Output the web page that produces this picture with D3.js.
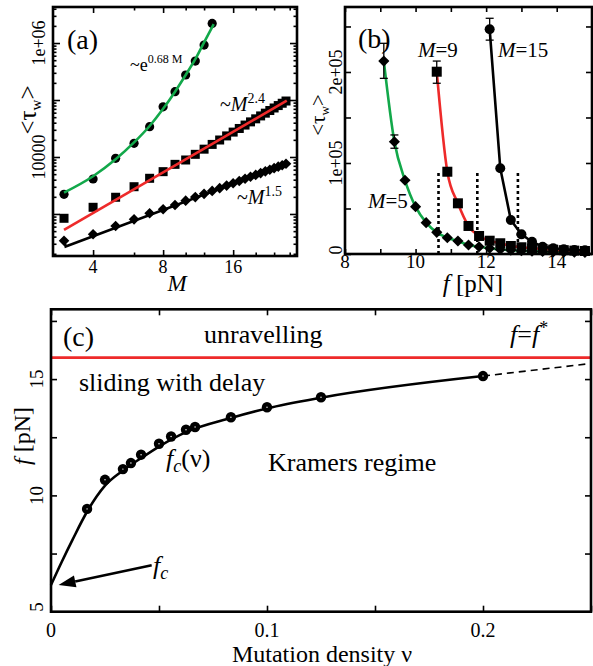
<!DOCTYPE html>
<html>
<head>
<meta charset="utf-8">
<script src="https://cdn.jsdelivr.net/npm/d3@7"></script>
<style>
  body { margin: 0; background: #fff; }
  svg { display: block; }
  svg text { font-family: "Liberation Serif", Tinos, "Times New Roman", "DejaVu Serif", serif; fill: #000; }
</style>
</head>
<body>
<script>
// ---------- data: panel (a) ----------
var aCircleM   = [3, 4, 5, 6, 7, 8, 9, 10, 11, 12, 13];
var aCircleTau = [2215, 4110, 9480, 17400, 34000, 76000, 140000, 275000, 483000, 922000, 2210000];
var aExpFitM   = [3, 4, 5, 6, 7, 8, 9, 10, 11, 12, 13.2];
var aExpFitTau = [2370, 4600, 9100, 18000, 35000, 70000, 140000, 275000, 520000, 1030000, 2150000];

var aSquareM   = [3, 4, 5, 6, 7, 8, 9, 10, 11, 12, 13, 14, 15, 16, 17, 18, 19, 20, 21, 22, 23, 24, 25, 26, 27];
var aSquareTau = [840, 1310, 1965, 3010, 4230, 5530, 7430, 8860, 11140, 13720, 16630, 19870, 23440,
                  27350, 31660, 36340, 41340, 46760, 52580, 58790, 65430, 72470, 79920, 87740, 96030];
var aPowFitM   = [3, 27.2];
var aPowFitTau = [524, 97200];

var aDiamondM   = aSquareM;
var aDiamondTau = [340, 440, 615, 805, 1028, 1210, 1440, 1714, 1977, 2253, 2540, 2839, 3149,
                   3469, 3799, 4139, 4489, 4848, 5216, 5593, 5979, 6373, 6775, 7186, 7604];
var aLinFitM   = [3, 3.05, 27.2];
var aLinFitTau = [340, 268, 7700];

var aMajorM = [4, 8, 16];
var aMinorM = [6, 10, 12, 20, 24, 28];

// ---------- data: panel (b) ----------
var bDiamondF   = [9.1, 9.4, 9.7, 10.0, 10.3, 10.6, 10.9, 11.2, 11.5, 11.8, 12.1, 12.4, 12.7, 13.0, 13.3, 13.6, 13.9, 14.2, 14.5, 14.8];
var bDiamondTau = [212000, 123400, 81000, 52000, 34400, 23800, 17900, 14300, 9900, 8000, 6300,
                   5000, 4200, 3600, 3100, 2700, 2400, 2100, 1900, 1700];
var bSquareF    = [10.6, 10.9, 11.2, 11.5, 11.8, 12.1, 12.4, 12.7, 13.0, 13.3, 13.6, 13.9, 14.2, 14.5, 14.8];
var bSquareTau  = [200300, 90400, 55700, 30800, 19800, 14600, 11800, 8800, 7400, 6300, 5500, 4800, 4200, 3700, 3300];
var bCircleF    = [12.1, 12.4, 12.7, 13.0, 13.3, 13.6, 13.9, 14.2, 14.5, 14.8];
var bCircleTau  = [246900, 94300, 37400, 21600, 13500, 8000, 6300, 5200, 4400, 4000];
var bErrF  = [9.1, 9.4, 10.6, 12.1];
var bErrLo = [193000, 116200, 187600, 235000];
var bErrHi = [231500, 130800, 212000, 259000];
var bDotF   = [10.65, 11.75, 12.9];
var bDotTop = 91500;

// ---------- data: panel (c) ----------
var cNu = [0.0167, 0.025, 0.0333, 0.037, 0.0417, 0.05, 0.0556, 0.0625, 0.0667, 0.0833, 0.1, 0.125, 0.2];
var cF  = [9.42, 10.67, 11.13, 11.39, 11.75, 12.22, 12.53, 12.82, 12.94, 13.36, 13.79, 14.22, 15.13];
var cCurveNu = [0, 0.005, 0.01, 0.017, 0.025, 0.033, 0.042, 0.05, 0.0625, 0.0833, 0.1, 0.125, 0.2];
var cCurveF  = [6.15, 7.15, 8.1, 9.35, 10.42, 11.05, 11.62, 12.1, 12.72, 13.33, 13.74, 14.2, 15.13];
var cDashNu = [0.2, 0.25];
var cDashF  = [15.13, 15.67];
var cFstar = 15.92;
var cArrowNu = [0.0466, 0.0035];
var cArrowF  = [7.0, 6.15];

var GREEN = "#12a84a", RED = "#ee2a2a";
var SERIF = '"Liberation Serif", Tinos, "Times New Roman", "DejaVu Serif", serif';

var svg = d3.select("body").append("svg").attr("width", 593).attr("height", 666)
  .attr("font-family", SERIF);

function zip(xs, ys) { return xs.map(function(x, i) { return [x, ys[i]]; }); }

function addAxis(g, fn, scale, vals, len, tx, ty) {
  var sel = g.append("g")
    .attr("transform", "translate(" + tx + "," + ty + ")")
    .call(fn(scale).tickValues(vals).tickSize(-len).tickFormat(""));
  sel.select(".domain").remove();
  sel.selectAll("line").attr("stroke", "#000").attr("stroke-width", 1.6);
  return sel;
}

function frame(g, x0, x1, y0, y1) {
  g.append("rect").attr("x", x0).attr("y", y0).attr("width", x1 - x0).attr("height", y1 - y0)
    .attr("fill", "none").attr("stroke", "#000").attr("stroke-width", 2.6);
}

function diamond(sz) { return d3.symbol().type(d3.symbolSquare).size(sz)(); }

function label(g, x, y, size) {
  return g.append("text").attr("x", x).attr("y", y).attr("font-size", size).attr("font-family", SERIF);
}

// ================= panel (a) =================
var ga = svg.append("g");
var ax = d3.scaleLog().domain([2.69, 30.1]).range([53, 297]);
var ay = d3.scaleLog().domain([183, 4.29e6]).range([256, 7]);
var aYMajor = [1e3, 1e4, 1e5, 1e6];
var aYMinor = ay.ticks().filter(function(v) { return aYMajor.indexOf(v) < 0; });

addAxis(ga, d3.axisBottom, ax, aMajorM, 6, 0, 256);
addAxis(ga, d3.axisBottom, ax, aMinorM, 3.5, 0, 256);
addAxis(ga, d3.axisTop, ax, aMajorM, 6, 0, 7);
addAxis(ga, d3.axisTop, ax, aMinorM, 3.5, 0, 7);
addAxis(ga, d3.axisLeft, ay, aYMajor, 7, 53, 0);
addAxis(ga, d3.axisLeft, ay, aYMinor, 3.5, 53, 0);
addAxis(ga, d3.axisRight, ay, aYMajor, 7, 297, 0);
addAxis(ga, d3.axisRight, ay, aYMinor, 3.5, 297, 0);

var lineA = d3.line().x(function(d) { return ax(d[0]); }).y(function(d) { return ay(d[1]); });

ga.selectAll(".acirc").data(zip(aCircleM, aCircleTau)).enter().append("circle")
  .attr("cx", function(d) { return ax(d[0]); }).attr("cy", function(d) { return ay(d[1]); })
  .attr("r", 4.6).attr("fill", "#000");
ga.selectAll(".asq").data(zip(aSquareM, aSquareTau)).enter().append("rect")
  .attr("x", function(d) { return ax(d[0]) - 4.5; }).attr("y", function(d) { return ay(d[1]) - 4.5; })
  .attr("width", 9).attr("height", 9).attr("fill", "#000");
ga.selectAll(".adia").data(zip(aDiamondM, aDiamondTau)).enter().append("path")
  .attr("d", diamond(56))
  .attr("transform", function(d) { return "translate(" + ax(d[0]) + "," + ay(d[1]) + ") rotate(45)"; })
  .attr("fill", "#000");

ga.append("path").datum(zip(aExpFitM, aExpFitTau)).attr("d", lineA.curve(d3.curveMonotoneX))
  .attr("fill", "none").attr("stroke", GREEN).attr("stroke-width", 2.6);
ga.append("path").datum(zip(aPowFitM, aPowFitTau)).attr("d", lineA.curve(d3.curveLinear))
  .attr("fill", "none").attr("stroke", RED).attr("stroke-width", 2.6);
ga.append("path").datum(zip(aLinFitM, aLinFitTau)).attr("d", lineA.curve(d3.curveLinear))
  .attr("fill", "none").attr("stroke", "#000").attr("stroke-width", 2.6);

frame(ga, 53, 297, 7, 256);

aMajorM.forEach(function(m) {
  label(ga, ax(m), 273, 18).attr("text-anchor", "middle").text(m);
});
label(ga, 177, 291, 23).attr("text-anchor", "middle").attr("font-style", "italic").text("M");
[[1e6, "1e+06"], [1e4, "10000"]].forEach(function(t) {
  label(ga, 0, 0, 18).attr("transform", "translate(45," + ay(t[0]) + ") rotate(-90)")
    .attr("text-anchor", "middle").text(t[1]);
});
var tla = label(ga, 0, 0, 25).attr("transform", "translate(36,110) rotate(-90)").attr("text-anchor", "middle");
tla.append("tspan").text("<τ");
tla.append("tspan").attr("font-size", 15).attr("dy", 5).text("w");
tla.append("tspan").attr("dy", -5).text(">");

label(ga, 67, 49, 28).text("(a)");
var t1 = label(ga, 130, 71, 18);
t1.append("tspan").text("~e");
t1.append("tspan").attr("font-size", 12).attr("dy", -8).text("0.68 M");
var t2 = label(ga, 220, 111, 20);
t2.append("tspan").text("~");
t2.append("tspan").attr("font-style", "italic").text("M");
t2.append("tspan").attr("font-size", 14).attr("dy", -8).text("2.4");
var t3 = label(ga, 237, 204, 20);
t3.append("tspan").text("~");
t3.append("tspan").attr("font-style", "italic").text("M");
t3.append("tspan").attr("font-size", 14).attr("dy", -8).text("1.5");

// ================= panel (b) =================
var gb = svg.append("g");
var bx = d3.scaleLinear().domain([8, 15]).range([345, 592]);
var by = d3.scaleLinear().domain([0, 271400]).range([254, 7]);

addAxis(gb, d3.axisBottom, bx, d3.range(8, 15.01, 1), 5, 0, 254);
addAxis(gb, d3.axisTop, bx, d3.range(8, 15.01, 1), 5, 0, 7);
addAxis(gb, d3.axisLeft, by, [0, 50000, 100000, 150000, 200000, 250000], 6, 345, 0);
addAxis(gb, d3.axisRight, by, [0, 50000, 100000, 150000, 200000, 250000], 6, 592, 0);

var lineB = d3.line().x(function(d) { return bx(d[0]); }).y(function(d) { return by(d[1]); });

gb.selectAll(".dot").data(bDotF).enter().append("line")
  .attr("x1", function(d) { return bx(d); }).attr("x2", function(d) { return bx(d); })
  .attr("y1", by(0)).attr("y2", by(bDotTop))
  .attr("stroke", "#000").attr("stroke-width", 2.6).attr("stroke-dasharray", "3,3");

gb.append("path").datum(zip(bDiamondF, bDiamondTau)).attr("d", lineB.curve(d3.curveMonotoneX))
  .attr("fill", "none").attr("stroke", GREEN).attr("stroke-width", 2.6);
gb.selectAll(".bdia").data(zip(bDiamondF, bDiamondTau)).enter().append("path")
  .attr("d", diamond(62))
  .attr("transform", function(d) { return "translate(" + bx(d[0]) + "," + by(d[1]) + ") rotate(45)"; })
  .attr("fill", "#000");
gb.append("path").datum(zip(bSquareF, bSquareTau)).attr("d", lineB.curve(d3.curveMonotoneX))
  .attr("fill", "none").attr("stroke", RED).attr("stroke-width", 2.6);
gb.selectAll(".bsq").data(zip(bSquareF, bSquareTau)).enter().append("rect")
  .attr("x", function(d) { return bx(d[0]) - 5; }).attr("y", function(d) { return by(d[1]) - 5; })
  .attr("width", 10).attr("height", 10).attr("fill", "#000");
gb.append("path").datum(zip(bCircleF, bCircleTau)).attr("d", lineB.curve(d3.curveLinear))
  .attr("fill", "none").attr("stroke", "#000").attr("stroke-width", 2.6);
gb.selectAll(".bcirc").data(zip(bCircleF, bCircleTau)).enter().append("circle")
  .attr("cx", function(d) { return bx(d[0]); }).attr("cy", function(d) { return by(d[1]); })
  .attr("r", 5).attr("fill", "#000");

var errs = bErrF.map(function(f, i) { return { f: f, lo: bErrLo[i], hi: bErrHi[i] }; });
var eg = gb.selectAll(".err").data(errs).enter().append("g")
  .attr("stroke", "#000").attr("stroke-width", 1.3);
eg.append("line").attr("x1", function(d) { return bx(d.f); }).attr("x2", function(d) { return bx(d.f); })
  .attr("y1", function(d) { return by(d.lo); }).attr("y2", function(d) { return by(d.hi); });
eg.append("line").attr("x1", function(d) { return bx(d.f) - 4; }).attr("x2", function(d) { return bx(d.f) + 4; })
  .attr("y1", function(d) { return by(d.lo); }).attr("y2", function(d) { return by(d.lo); });
eg.append("line").attr("x1", function(d) { return bx(d.f) - 4; }).attr("x2", function(d) { return bx(d.f) + 4; })
  .attr("y1", function(d) { return by(d.hi); }).attr("y2", function(d) { return by(d.hi); });

frame(gb, 345, 592, 7, 254);

[8, 10, 12, 14].forEach(function(v) {
  label(gb, bx(v), 268, 19).attr("text-anchor", "middle").text(v);
});
var fl = label(gb, 473, 292, 25).attr("text-anchor", "middle");
fl.append("tspan").attr("font-style", "italic").text("f");
fl.append("tspan").text(" [pN]");
[["0", 250], ["1e+05", by(100000)], ["2e+05", by(200000)]].forEach(function(t) {
  label(gb, 0, 0, 18).attr("transform", "translate(342," + t[1] + ") rotate(-90)")
    .attr("text-anchor", "middle").text(t[0]);
});
var tlb = label(gb, 0, 0, 21).attr("transform", "translate(325,115) rotate(-90)").attr("text-anchor", "middle");
tlb.append("tspan").text("<τ");
tlb.append("tspan").attr("font-size", 13).attr("dy", 4).text("w");
tlb.append("tspan").attr("dy", -4).text(">");

label(gb, 358, 48, 28).text("(b)");
[["9", 418, 57], ["15", 498, 57], ["5", 368, 208]].forEach(function(t) {
  var tt = label(gb, t[1], t[2], 21);
  tt.append("tspan").attr("font-style", "italic").text("M");
  tt.append("tspan").text("=" + t[0]);
});

// ================= panel (c) =================
var gc = svg.append("g");
var cx = d3.scaleLinear().domain([0, 0.25]).range([51, 591]);
var cy = d3.scaleLinear().domain([5, 18]).range([611.7, 309.3]);

addAxis(gc, d3.axisBottom, cx, [0, 0.05, 0.1, 0.15, 0.2, 0.25], 6, 0, 611.7);
addAxis(gc, d3.axisTop, cx, [0, 0.05, 0.1, 0.15, 0.2, 0.25], 6, 0, 309.3);
addAxis(gc, d3.axisLeft, cy, [5, 7.5, 10, 12.5, 15, 17.5], 6, 51, 0);
addAxis(gc, d3.axisRight, cy, [5, 7.5, 10, 12.5, 15, 17.5], 6, 591, 0);

var lineC = d3.line().x(function(d) { return cx(d[0]); }).y(function(d) { return cy(d[1]); });

gc.append("line").attr("x1", cx(0)).attr("x2", cx(0.25)).attr("y1", cy(cFstar)).attr("y2", cy(cFstar))
  .attr("stroke", RED).attr("stroke-width", 2.8);
gc.append("path").datum(zip(cCurveNu, cCurveF)).attr("d", lineC.curve(d3.curveMonotoneX))
  .attr("fill", "none").attr("stroke", "#000").attr("stroke-width", 2.6);
gc.append("path").datum(zip(cDashNu, cDashF)).attr("d", lineC.curve(d3.curveLinear))
  .attr("fill", "none").attr("stroke", "#000").attr("stroke-width", 1.6).attr("stroke-dasharray", "7,5");
gc.selectAll(".ccirc").data(zip(cNu, cF)).enter().append("circle")
  .attr("cx", function(d) { return cx(d[0]); }).attr("cy", function(d) { return cy(d[1]); })
  .attr("r", 5.2).attr("fill", "#000");
gc.selectAll(".cdot").data(zip(cNu, cF)).enter().append("circle")
  .attr("cx", function(d) { return cx(d[0]); }).attr("cy", function(d) { return cy(d[1]); })
  .attr("r", 0.7).attr("fill", "#fff");

// arrow to f_c
var x1 = cx(cArrowNu[0]), y1 = cy(cArrowF[0]), x2 = cx(cArrowNu[1]), y2 = cy(cArrowF[1]);
var ang = Math.atan2(y2 - y1, x2 - x1), hl = 17, hw = 6;
var bxh = x2 - hl * Math.cos(ang), byh = y2 - hl * Math.sin(ang);
gc.append("line").attr("x1", x1).attr("y1", y1).attr("x2", bxh).attr("y2", byh)
  .attr("stroke", "#000").attr("stroke-width", 2.6);
gc.append("path")
  .attr("d", d3.line()([[x2, y2],
    [bxh + hw * Math.sin(ang), byh - hw * Math.cos(ang)],
    [bxh - hw * Math.sin(ang), byh + hw * Math.cos(ang)]]) + "Z")
  .attr("fill", "#000");

frame(gc, 51, 591, 309.3, 611.7);

[0, 0.1, 0.2].forEach(function(v) {
  label(gc, cx(v), 637, 20).attr("text-anchor", "middle").text(v);
});
label(gc, 322, 662, 24).attr("text-anchor", "middle").text("Mutation density ν");
[[5, 607], [10, cy(10)], [15, cy(15)]].forEach(function(t) {
  label(gc, 0, 0, 19).attr("transform", "translate(43," + t[1] + ") rotate(-90)")
    .attr("text-anchor", "middle").text(t[0]);
});
var fy = label(gc, 0, 0, 24).attr("transform", "translate(30,436) rotate(-90)").attr("text-anchor", "middle");
fy.append("tspan").attr("font-style", "italic").text("f");
fy.append("tspan").text(" [pN]");

label(gc, 63, 346, 28).text("(c)");
label(gc, 204, 343, 26).text("unravelling");
label(gc, 79, 391, 26).text("sliding with delay");
label(gc, 268, 471, 26).text("Kramers regime");
var fs = label(gc, 510, 343, 26);
fs.append("tspan").attr("font-style", "italic").text("f");
fs.append("tspan").text("=");
fs.append("tspan").attr("font-style", "italic").text("f");
fs.append("tspan").attr("font-size", 18).attr("dy", -9).text("*");
var fc1 = label(gc, 166, 467, 26);
fc1.append("tspan").attr("font-style", "italic").text("f");
fc1.append("tspan").attr("font-style", "italic").attr("font-size", 18).attr("dy", 5).text("c");
fc1.append("tspan").attr("dy", -5).text("(ν)");
var fc2 = label(gc, 153, 574, 26);
fc2.append("tspan").attr("font-style", "italic").text("f");
fc2.append("tspan").attr("font-style", "italic").attr("font-size", 18).attr("dy", 5).text("c");
</script>
</body>
</html>
